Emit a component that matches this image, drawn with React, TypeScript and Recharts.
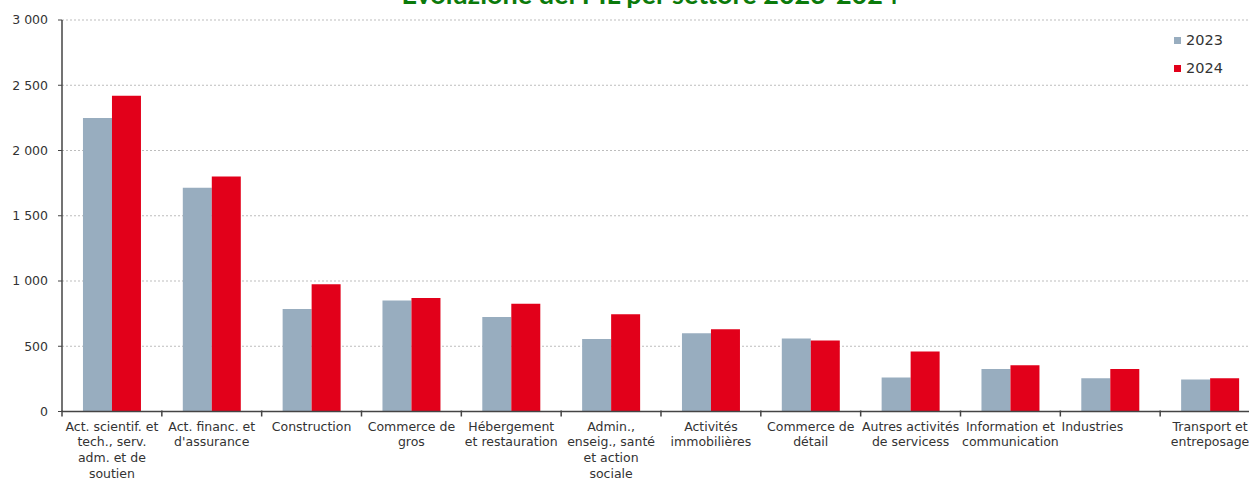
import React from 'react';
import { BarChart, Bar, XAxis, YAxis, CartesianGrid } from 'recharts';

const categories = [
  'Act. scientif. et\ntech., serv.\nadm. et de\nsoutien',
  "Act. financ. et\nd'assurance",
  'Construction',
  'Commerce de\ngros',
  'Hébergement\net restauration',
  'Admin.,\nenseig., santé\net action\nsociale',
  'Activités\nimmobilières',
  'Commerce de\ndétail',
  'Autres activités\nde servicess',
  'Information et\ncommunication',
  'Industries\u00a0\u00a0\u00a0\u00a0\u00a0\u00a0\u00a0\u00a0\u00a0',
  'Transport et\nentreposage',
];

const values2023 = [2250, 1715, 785, 850, 725, 555, 600, 560, 260, 325, 255, 245];
const values2024 = [2420, 1800, 975, 870, 825, 745, 630, 545, 460, 355, 325, 255];

const yTicks = [0, 500, 1000, 1500, 2000, 2500, 3000];

const seriesNames = ['2023', '2024'];
const colors = ['#98adbf', '#e2001a'];

const data = categories.map((name, i) => ({
  name,
  y2023: values2023[i],
  y2024: values2024[i],
}));

const CHART_W = 1270;
const CHART_H = 479;
const Y_W = 62;
const MARGIN = { top: 20, right: 10, left: 0, bottom: 0 };
const BAND = (CHART_W - MARGIN.right - MARGIN.left - Y_W) / categories.length;

const FONT = '"DejaVu Sans", sans-serif';

const fmt = (v: number) => (v >= 1000 ? `${Math.floor(v / 1000)} ${String(v % 1000).padStart(3, '0')}` : String(v));

const XTick = (props: any) => {
  const { x, y, payload } = props;
  const lines = String(payload.value).split('\n');
  return (
    <g>
      <line x1={x - BAND / 2} x2={x - BAND / 2} y1={y - 1} y2={y + 5} stroke="#444" strokeWidth={1.5} />
      <text x={x} y={y} textAnchor="middle" fontFamily={FONT} fontSize={12.5} fill="#333">
        {lines.map((l, i) => (
          <tspan key={i} x={x} dy={i === 0 ? 19 : 15.8}>
            {l}
          </tspan>
        ))}
      </text>
    </g>
  );
};

const LegendBox = () => (
  <div style={{ position: 'absolute', left: 1174, top: 26, fontFamily: FONT, fontSize: 14.5, color: '#333', zIndex: 2 }}>
    {seriesNames.map((s, i) => (
      <div key={s} style={{ display: 'flex', alignItems: 'center', height: 28 }}>
        <span style={{ width: 7, height: 7, background: colors[i], marginRight: 5, display: 'inline-block' }} />
        <span>{s}</span>
      </div>
    ))}
  </div>
);

export default function App() {
  return (
    <div style={{ position: 'fixed', left: 0, top: 0, width: 1249, height: 479, overflow: 'hidden', background: '#fff' }}>
      <svg width={1249} height={20} style={{ position: 'absolute', left: 0, top: 0, zIndex: 2 }}>
        <text x={650} y={4} textAnchor="middle" fontFamily="Lato, sans-serif" fontWeight={700} fontSize={27} fill="#0b7a0b">
          Evoluzione del PIL per settore 2023-2024
        </text>
      </svg>
      <LegendBox />
      <BarChart width={CHART_W} height={CHART_H} data={data} margin={MARGIN} barCategoryGap="21%" barGap={0}>
        <CartesianGrid vertical={false} stroke="#bdbdbd" strokeDasharray="2 2" />
        <XAxis
          dataKey="name"
          interval={0}
          height={67.5}
          tickLine={false}
          tickSize={0}
          tickMargin={0}
          axisLine={{ stroke: '#444', strokeWidth: 1.5 }}
          tick={<XTick />}
        />
        <YAxis
          width={Y_W}
          domain={[0, 3000]}
          ticks={yTicks}
          tickFormatter={fmt}
          tickSize={4}
          tickMargin={10}
          tickLine={{ stroke: '#444' }}
          axisLine={{ stroke: '#444', strokeWidth: 1.5 }}
          tick={{ fontFamily: FONT, fontSize: 12.5, fill: '#333' }}
        />
        <Bar dataKey="y2023" name={seriesNames[0]} fill={colors[0]} isAnimationActive={false} />
        <Bar dataKey="y2024" name={seriesNames[1]} fill={colors[1]} isAnimationActive={false} />
      </BarChart>
    </div>
  );
}
